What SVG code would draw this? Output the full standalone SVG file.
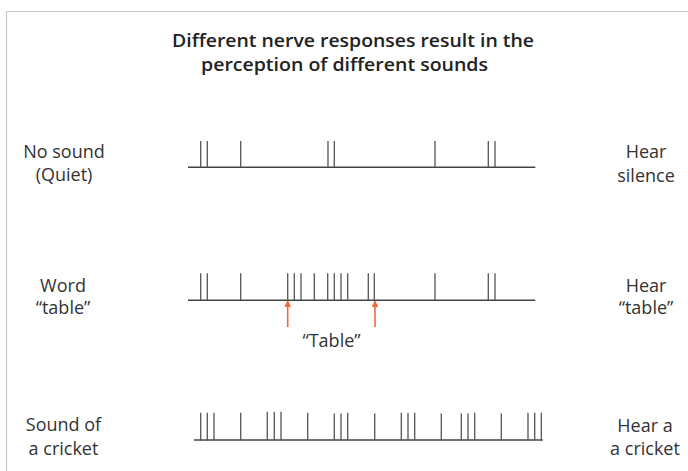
<svg xmlns="http://www.w3.org/2000/svg" width="688" height="471" viewBox="0 0 688 471">
<defs>
<style>
.lbl{font-family:"Open Sans","Liberation Sans",sans-serif;font-size:18px;fill:#333;text-anchor:middle}
.ttl{font-family:"Open Sans","Liberation Sans",sans-serif;font-size:18.5px;font-weight:600;fill:#222}
.ax{stroke:#444;stroke-width:1.4;fill:none}
.sp{stroke:#555;stroke-width:1.3;fill:none}
.arr{stroke:#f06a3c;stroke-width:1.6;fill:none}
.frame{stroke:#c8c8c8;stroke-width:1.2;fill:none}
</style>
<marker id="ah" viewBox="0 0 10 10" refX="9" refY="5" markerWidth="7" markerHeight="7" markerUnits="userSpaceOnUse" orient="auto">
<path d="M0,0 L10,5 L0,10 z" fill="#f06a3c"/>
</marker>
</defs>
<rect width="688" height="471" fill="#fff"/>
<path class="frame" d="M6.5,471 V11.5 H688"/>
<g id="title">
<text class="ttl" x="172" y="46.5" textLength="362" lengthAdjust="spacingAndGlyphs">Different nerve responses result in the</text>
<text class="ttl" x="201" y="71" textLength="287" lengthAdjust="spacingAndGlyphs">perception of different sounds</text>
</g>
<g id="row-quiet">
<text class="lbl" x="64" y="157.5">No sound</text>
<text class="lbl" x="64" y="180.5">(Quiet)</text>
<text class="lbl" x="646" y="158.3">Hear</text>
<text class="lbl" x="646" y="181.7">silence</text>
<path class="ax" d="M188,167.3 H535.3"/>
<path class="sp" d="M200.7,141V167 M207.3,141V167 M240.7,141V167 M328,141V167 M334.3,141V167 M435,141V167 M488.3,141V167 M495,141V167"/>
</g>
<g id="row-table">
<text class="lbl" x="63" y="291.7">Word</text>
<text class="lbl" x="63" y="313.5">“table”</text>
<text class="lbl" x="646" y="291.7">Hear</text>
<text class="lbl" x="646" y="313.5">“table”</text>
<path class="ax" d="M188,300.3 H535.3"/>
<path class="sp" d="M200.7,273.3V300 M207.3,273.3V300 M240.7,273.3V300 M287.7,273.3V300 M294.3,273.3V300 M301,273.3V300 M314.3,273.3V300 M327.7,273.3V300 M334.3,273.3V300 M341,273.3V300 M347.7,273.3V300 M368.3,273.3V300 M374.3,273.3V300 M435,273.3V300 M488.3,273.3V300 M495,273.3V300"/>
<text class="lbl" x="331.5" y="346.7">“Table”</text>
</g>
<g id="row-cricket">
<text class="lbl" x="63.5" y="431">Sound of</text>
<text class="lbl" x="63.5" y="455">a cricket</text>
<text class="lbl" x="645" y="431.5">Hear a</text>
<text class="lbl" x="645" y="455">a cricket</text>
<path class="ax" d="M194,440 H542.7"/>
<path class="sp" d="M200.7,412.7V440.5 M207.3,412.7V440.5 M214,412.7V440.5 M240.7,412.7V440.5 M267.3,411.7V440.5 M274.3,411.7V440.5 M281,411.7V440.5 M307.7,412.7V440.5 M334.3,413.5V440.5 M341,413.5V440.5 M347.7,412.7V440.5 M374.7,413.5V440.5 M401.3,412.7V440.5 M408,412.7V440.5 M414.7,412.7V440.5 M441.3,413.5V440.5 M461.3,413.5V440.5 M468,413.5V440.5 M474.7,412.7V440.5 M501.3,413.5V440.5 M528,412.7V440.5 M534.7,412.7V440.5 M541.3,412.7V441"/>
</g>
<g id="connectors">
<path class="arr" d="M287.7,327 V301" marker-end="url(#ah)"/>
<path class="arr" d="M375,327 V301" marker-end="url(#ah)"/>
</g>
</svg>
